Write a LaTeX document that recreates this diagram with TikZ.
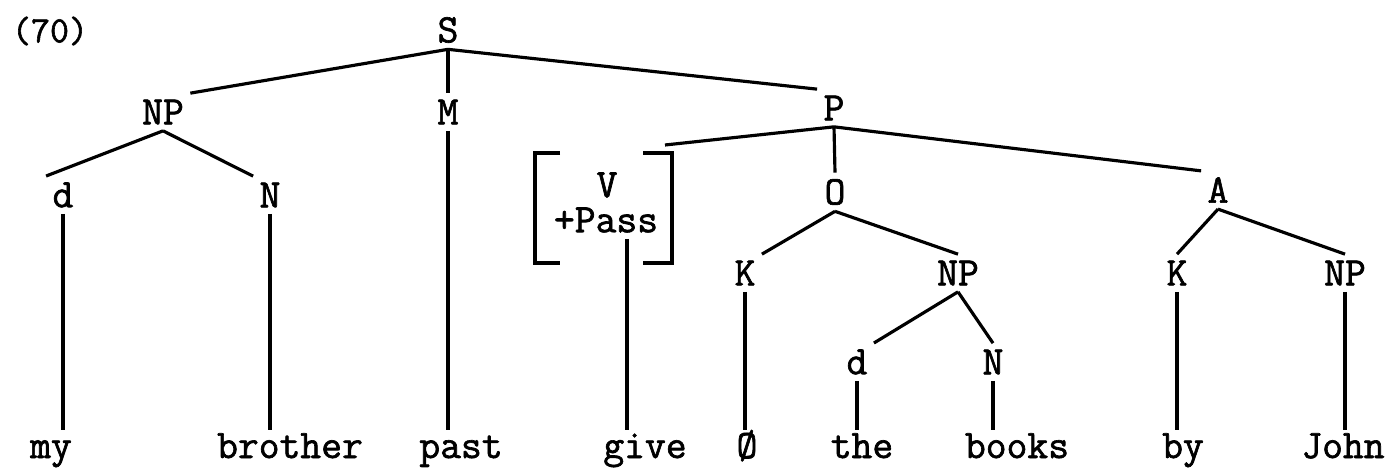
\documentclass[tikz,border=0pt]{standalone}
\usepackage{fontspec}
\newfontfamily\twfont[FakeBold=1.6]{Latin Modern Mono}
\usepackage{tikz}
\usetikzlibrary{positioning}

\begin{document}
\begin{tikzpicture}[
cat/.style={font=\twfont\fontsize{23}{27}\selectfont, inner sep=3.5pt},
    word/.style={font=\twfont\fontsize{23}{27}\selectfont, anchor=base,
text height=12pt, text depth=4pt, inner sep=4pt},
    branch/.style={line width=1.8pt},
    brk/.style={line width=2pt}]
\useasboundingbox (0,0) rectangle (27.92,-9.36);
\node[cat, font=\twfont\fontsize{21}{25}\selectfont] (ex) at (1.0,-0.62) {(70)};
\node[cat] (S)   at (8.96,-0.6)  {S};
\node[cat] (NPa) at (3.26,-2.24) {NP};
\node[cat] (M)   at (8.96,-2.24) {M};
\node[cat] (P)   at (16.68,-2.16) {P};
\node[cat] (da)  at (1.26,-3.9)  {d};
\node[cat] (Na)  at (5.4,-3.9)   {N};
\node[cat] (vb)  at (12.12,-4.4) {+Pass};
\node[cat] (vv)  at (12.14,-3.7)  {V};
\node[cat] (O)   at (16.7,-3.84) {O};
\node[cat] (A)   at (24.36,-3.8) {A};
\node[cat] (Ka)  at (14.9,-5.46) {K};
\node[cat] (NPb) at (19.16,-5.46) {NP};
\node[cat] (Kb)  at (23.54,-5.46) {K};
\node[cat] (NPc) at (26.9,-5.46) {NP};
\node[cat] (db)  at (17.14,-7.24) {d};
\node[cat] (Nb)  at (19.86,-7.24) {N};

% words
\node[word] (my)      at (1.02,-9.16)  {my};
\node[word] (brother) at (5.8,-9.16)   {brother};
\node[word] (past)    at (9.22,-9.16)  {past};
\node[word] (give)    at (12.9,-9.16)  {give};
\node[word] (zero)    at (14.94,-9.16) {Ø};
\node[word] (the)     at (17.24,-9.16) {the};
\node[word] (books)   at (20.34,-9.16) {books};
\node[word] (by)      at (23.66,-9.16) {by};
\node[word] (John)    at (26.86,-9.16) {John};

% brackets
\draw[brk] ([shift={(-0.92,1.34)}]vb.center) -- ++(-0.5,0) -- ++(0,-2.2) -- ++(0.5,0);
\draw[brk] ([shift={(0.74,1.34)}]vb.center) -- ++(0.58,0) -- ++(0,-2.2) -- ++(-0.58,0);

\draw[branch] (S.south) -- (NPa.north east);
\draw[branch] (S.south) -- (M.north);
\draw[branch] (S.south) -- (P.north west);
\draw[branch] (NPa.south) -- (da.north west);
\draw[branch] (NPa.south) -- (Na.north west);
\draw[branch] (P.south) -- ([shift={(1.18,1.5)}]vb.center);
\draw[branch] (P.south) -- (O.north);
\draw[branch] (P.south) -- (A.north west);
\draw[branch] (O.south) -- (Ka.north east);
\draw[branch] (O.south) -- (NPb.north);
\draw[branch] (NPb.south) -- (db.north east);
\draw[branch] (NPb.south) -- (Nb.north);
\draw[branch] (A.south) -- (Kb.north);
\draw[branch] (A.south) -- (NPc.north);

\draw[branch] (da.south) -- (da.south |- my.north);
\draw[branch] (Na.south) -- (Na.south |- brother.north);
\draw[branch] (M.south) -- (M.south |- past.north);
\draw[branch] ([xshift=0.42cm]vb.south) -- ([xshift=0.42cm]vb.south |- give.north);
\draw[branch] (Ka.south) -- (Ka.south |- zero.north);
\draw[branch] (db.south) -- (db.south |- the.north);
\draw[branch] (Nb.south) -- (Nb.south |- books.north);
\draw[branch] (Kb.south) -- (Kb.south |- by.north);
\draw[branch] (NPc.south) -- (NPc.south |- John.north);
\end{tikzpicture}
\end{document}
